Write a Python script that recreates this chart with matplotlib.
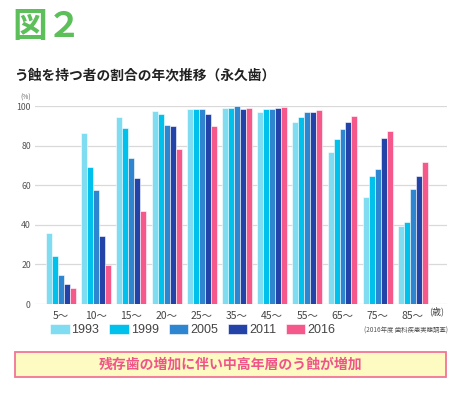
import numpy as np
import matplotlib
matplotlib.use("Agg")
from matplotlib import pyplot as plt
from matplotlib.patches import Rectangle

plt.rcParams['font.family'] = ['Noto Sans CJK JP', 'DejaVu Sans']

# data
ages = ['5～', '10～', '15～', '20～', '25～', '35～', '45～', '55～', '65～', '75～', '85～']
years = ['1993', '1999', '2005', '2011', '2016']
v1993 = [36.0, 86.2, 94.6, 97.3, 98.3, 99.0, 96.8, 91.8, 76.8, 54.3, 39.2]
v1999 = [24.2, 69.4, 88.7, 95.8, 98.3, 99.0, 98.3, 94.6, 83.5, 64.9, 41.5]
v2005 = [14.5, 57.6, 73.6, 90.3, 98.3, 99.8, 98.3, 97.1, 88.2, 68.4, 58.2]
v2011 = [9.9, 34.6, 63.5, 89.7, 96.0, 98.5, 98.8, 97.1, 91.8, 83.9, 64.9]
v2016 = [8.2, 19.7, 46.9, 78.3, 90.1, 99.0, 99.3, 98.0, 95.0, 87.6, 71.9]
series = [v1993, v1999, v2005, v2011, v2016]
colors = ['#80dcf0', '#00c0ec', '#2f86d0', '#2443a8', '#f5588a']

fig = plt.figure(figsize=(4.61, 3.94), dpi=100)
ax = fig.add_axes([0.0759, 0.2284, 0.8937, 0.5025])

x = np.arange(len(ages))
w = 0.17
bars = []
for i, (vals, c) in enumerate(zip(series, colors)):
    b = ax.bar(x + (i - 2) * w, vals, w, color=c, edgecolor='white', linewidth=0.4,
               label=years[i], zorder=2)
    bars.append(b)

ax.set_xlim(-0.74, 10.97)
ax.set_ylim(0, 100)
ax.set_yticks([0, 20, 40, 60, 80, 100])
ax.grid(axis='y', color='#d9d9d9', linewidth=0.9, zorder=0)
for s in ax.spines.values():
    s.set_visible(False)
ax.tick_params(length=0)
ax.tick_params(axis='y', labelsize=6.3, labelcolor='#555555', pad=3)
ax.set_xticks(x)
ax.set_xticklabels(ages, fontsize=7.5, color='#444444')
ax.tick_params(axis='x', pad=5)

# titles
fig.text(0.026, 0.932, '図２', fontsize=25, fontweight='bold', color='#5cbf5a',
         ha='left', va='center')
fig.text(0.030, 0.808, 'う蝕を持つ者の割合の年次推移（永久歯）', fontsize=9.9,
         fontweight='bold', color='#222222', ha='left', va='center')
fig.text(0.045, 0.753, '(%)', fontsize=4.8, color='#666666', ha='left', va='center')
fig.text(0.930, 0.210, '(歳)', fontsize=6.5, color='#444444', ha='left', va='center')

# legend
leg = fig.legend(handles=bars, labels=years, loc='center left',
                 bbox_to_anchor=(0.109, 0.162), ncol=5, frameon=False,
                 prop={'family': 'Liberation Sans', 'size': 9},
                 handlelength=1.55, handleheight=0.8, handletextpad=0.15,
                 columnspacing=0.8, borderaxespad=0, borderpad=0)
for t in leg.get_texts():
    t.set_color('#444444')
fig.text(0.971, 0.162, '(2016年度 歯科疾患実態調査)', fontsize=4.6, color='#555555',
         ha='right', va='center')

# message box
fig.patches.append(Rectangle((0.033, 0.043), 0.934, 0.064, transform=fig.transFigure,
                             facecolor='#fdfbc2', edgecolor='#f27496', linewidth=1.3))
fig.text(0.5, 0.075, '残存歯の増加に伴い中高年層のう蝕が増加', fontsize=10,
         fontweight='bold', color='#f0558a', ha='center', va='center')

fig.savefig('out.png', dpi=100)
